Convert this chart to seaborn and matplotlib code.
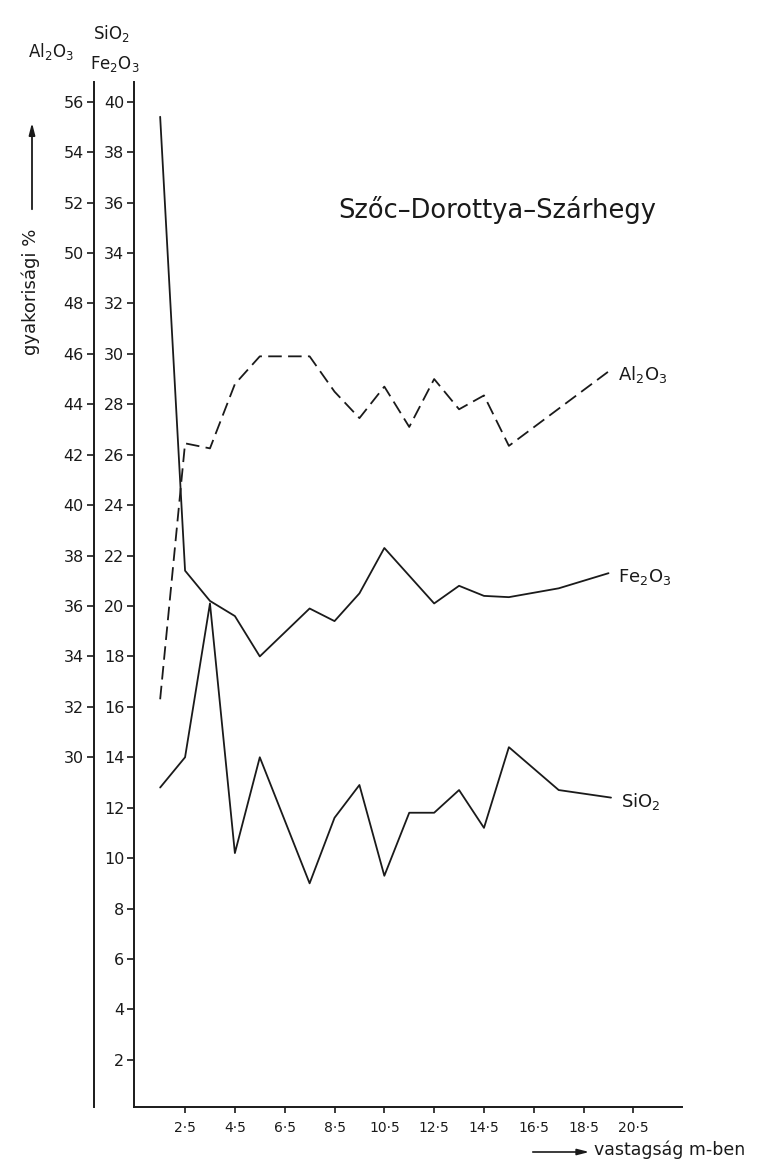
import numpy as np
import pandas as pd
import seaborn as sns
import matplotlib.pyplot as plt

# depth (m) and oxide contents
depth_sio2 = [1.5, 2.5, 3.5, 4.5, 5.5, 7.5, 8.5, 9.5, 10.5, 11.5, 12.5, 13.5, 14.5, 15.5, 17.5, 19.6]
sio2 = [12.8, 14.0, 20.1, 10.2, 14.0, 9.0, 11.6, 12.9, 9.3, 11.8, 11.8, 12.7, 11.2, 14.4, 12.7, 12.4]

depth_fe2o3 = [1.5, 2.5, 3.5, 4.5, 5.5, 7.5, 8.5, 9.5, 10.5, 11.5, 12.5, 13.5, 14.5, 15.5, 17.5, 19.5]
fe2o3 = [39.4, 21.4, 20.2, 19.6, 18.0, 19.9, 19.4, 20.5, 22.3, 21.2, 20.1, 20.8, 20.4, 20.35, 20.7, 21.3]

depth_al2o3 = [1.5, 2.5, 3.5, 4.5, 5.5, 7.5, 8.5, 9.5, 10.5, 11.5, 12.5, 13.5, 14.5, 15.5, 19.5]
al2o3 = [32.3, 42.45, 42.25, 44.8, 45.9, 45.9, 44.5, 43.45, 44.7, 43.1, 45.0, 43.8, 44.35, 42.35, 45.3]

x_ticks = [2.5, 4.5, 6.5, 8.5, 10.5, 12.5, 14.5, 16.5, 18.5, 20.5]
inner_ticks = list(range(2, 41, 2))
outer_ticks = list(range(30, 57, 2))
al_offset = 16  # Al2O3 scale = SiO2/Fe2O3 scale + 16

sns.set_style("ticks")
plt.rcParams['font.family'] = ['DejaVu Sans']
plt.rcParams['mathtext.fontset'] = 'dejavusans'

ink = '#1a1a1a'
W, H = 764, 1176
fig = plt.figure(figsize=(W / 100, H / 100), dpi=100)
ax = fig.add_axes([134 / W, 1 - 1107 / H, (682 - 134) / W, (1107 - 82) / H])

sns.lineplot(x=depth_sio2, y=sio2, ax=ax, color=ink, lw=1.3, estimator=None)
sns.lineplot(x=depth_fe2o3, y=fe2o3, ax=ax, color=ink, lw=1.3, estimator=None)

ax.set_xlim(0.45, 22.45)
ax.set_ylim(0.13, 40.78)

# second (outer) axis for Al2O3
tw = ax.twinx()
sns.lineplot(x=depth_al2o3, y=al2o3, ax=tw, color=ink, lw=1.3, estimator=None,
             linestyle=(0, (7.5, 3.5)))
tw.set_ylim(0.13 + al_offset, 40.78 + al_offset)
tw.set_xlim(ax.get_xlim())

for s in ['top', 'right']:
    ax.spines[s].set_visible(False)
for s in ['top', 'right', 'bottom']:
    tw.spines[s].set_visible(False)
tw.spines['left'].set_visible(True)
tw.spines['left'].set_position(('outward', 29))
tw.yaxis.set_ticks_position('left')
tw.yaxis.set_label_position('left')
for a in (ax, tw):
    for s in a.spines.values():
        s.set_linewidth(1.4)
        s.set_color(ink)

ax.set_yticks(inner_ticks)
ax.set_yticklabels([str(t) for t in inner_ticks])
tw.set_yticks(outer_ticks)
tw.set_yticklabels([str(t) for t in outer_ticks])
ax.set_xticks(x_ticks)
ax.set_xticklabels([f"{t:g}".replace('.', '·') for t in x_ticks])

ax.tick_params(axis='y', direction='out', length=5, width=1.2, labelsize=11.5, pad=2, colors=ink)
tw.tick_params(axis='y', direction='out', length=5, width=1.2, labelsize=11.5, pad=2, colors=ink)
ax.tick_params(axis='x', direction='out', length=4, width=1.2, labelsize=10, pad=6, colors=ink)
ax.set_xlabel('')
ax.set_ylabel('')
tw.set_ylabel('')

# series labels at line ends
ax.annotate('Al$_2$O$_3$', xy=(depth_al2o3[-1], al2o3[-1] - al_offset), xytext=(7, -2),
            textcoords='offset points', ha='left', va='center', fontsize=13, color=ink)
ax.annotate('Fe$_2$O$_3$', xy=(depth_fe2o3[-1], fe2o3[-1]), xytext=(7, -3),
            textcoords='offset points', ha='left', va='center', fontsize=13, color=ink)
ax.annotate('SiO$_2$', xy=(depth_sio2[-1], sio2[-1]), xytext=(7, -3),
            textcoords='offset points', ha='left', va='center', fontsize=13, color=ink)

# title and axis captions
fig.text(497 / W, 1 - 210 / H, 'Szőc–Dorottya–Szárhegy', ha='center', va='center',
         fontsize=18.5, color=ink)
fig.text(51 / W, 1 - 52 / H, 'Al$_2$O$_3$', ha='center', va='center', fontsize=12, color=ink)
fig.text(111 / W, 1 - 33 / H, 'SiO$_2$', ha='center', va='center', fontsize=12, color=ink)
fig.text(115 / W, 1 - 64 / H, 'Fe$_2$O$_3$', ha='center', va='center', fontsize=12, color=ink)

fig.text(31 / W, 1 - 292 / H, 'gyakorisági %', rotation=90, ha='center', va='center',
         fontsize=13, color=ink)
ax.annotate('', xy=(32 / W, 1 - 120 / H), xytext=(32 / W, 1 - 212 / H),
            xycoords='figure fraction', textcoords='figure fraction',
            arrowprops=dict(arrowstyle='-|>,head_length=0.7,head_width=0.18',
                            color=ink, lw=1.3))

ax.annotate('', xy=(592 / W, 1 - 1152 / H), xytext=(530 / W, 1 - 1152 / H),
            xycoords='figure fraction', textcoords='figure fraction',
            arrowprops=dict(arrowstyle='-|>,head_length=0.7,head_width=0.18',
                            color=ink, lw=1.2))
fig.text(594 / W, 1 - 1150 / H, 'vastagság m-ben', ha='left', va='center',
         fontsize=12.5, color=ink)

fig.savefig('out.png', dpi=100)
